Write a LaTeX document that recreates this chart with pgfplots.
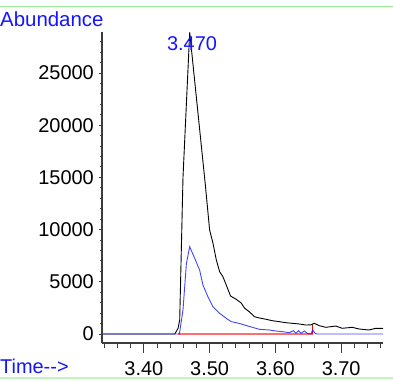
\documentclass[border=0pt]{standalone}
\usepackage{fontspec}
\setmainfont{Liberation Sans}
\usepackage{pgfplots}
\pgfplotsset{compat=1.18}
\definecolor{pkblue}{RGB}{20,20,255}
\definecolor{pkred}{RGB}{255,110,110}
\definecolor{pkgreen}{RGB}{150,235,150}
\definecolor{axgray}{RGB}{60,60,60}
\begin{document}
\begin{tikzpicture}
\useasboundingbox (0,0) rectangle (393bp,381bp);
\draw[pkgreen, line width=1bp] (0,374bp) -- (393bp,374bp);
\draw[pkgreen!60, line width=2bp] (0,2.5bp) -- (393bp,2.5bp);
\begin{axis}[
  at={(102bp,38bp)}, anchor=south west,
  scale only axis, width=281bp, height=311bp,
  xmin=3.33636, xmax=3.7636, ymin=-862, ymax=28930,
  axis x line=bottom, axis y line=none,
  axis line style={-, draw=axgray, line width=1.2bp},
  tick align=outside,
  major tick length=10bp, minor tick length=5bp,
  tick style={axgray, line width=1bp},
  xtick={3.4,3.5,3.6,3.7},
  xticklabels={3.40,3.50,3.60,3.70},
  minor xtick={3.34,3.36,3.38,3.42,3.44,3.46,3.48,3.52,3.54,3.56,3.58,3.62,3.64,3.66,3.68,3.72,3.74,3.76},
  ytick=\empty,
  xticklabel style={font=\fontsize{20}{22}\selectfont, anchor=north, inner sep=0pt, yshift=-8bp},
]
\addplot[pkred, line width=2bp] coordinates {(3.452,0) (3.6572,0)};
\addplot[red, line width=1bp] coordinates {(3.6565,0) (3.6565,1000)};
\addplot[black, line width=0.9bp] coordinates {
(3.3364,0) (3.4470,0) (3.4520,550) (3.4545,1340) (3.4595,15000) (3.4697,28900)
(3.4935,14270) (3.5000,9960) (3.5050,8720) (3.5102,7090) (3.5152,5970) (3.5202,5490)
(3.5253,4690) (3.5318,3640) (3.5405,3320) (3.5480,2970) (3.5530,2490) (3.5606,2110)
(3.5682,1660) (3.5758,1530) (3.5859,1410) (3.5955,1270) (3.6061,1180) (3.6162,1080)
(3.6258,1025) (3.6364,958) (3.6465,860) (3.6540,880) (3.6591,1025) (3.6667,795)
(3.6768,640) (3.6920,766) (3.7015,546) (3.7167,640) (3.7273,480) (3.7424,383)
(3.7526,546) (3.7636,546)};
\addplot[pkblue, line width=0.9bp, opacity=0.8] coordinates {
(3.3364,0) (3.4540,0) (3.4595,2300) (3.4647,6770) (3.4697,8360) (3.4773,7250)
(3.4848,6130) (3.4898,4690) (3.4974,3570) (3.5050,2615) (3.5152,1983) (3.5253,1504)
(3.5329,1180) (3.5405,1083) (3.5480,958) (3.5606,720) (3.5758,450) (3.5909,383)
(3.6010,287) (3.6111,220) (3.6212,125) (3.6273,316) (3.6313,67) (3.6353,316)
(3.6389,67) (3.6439,290) (3.6489,50) (3.6540,0) (3.6565,383) (3.6606,50)
(3.6636,0) (3.7636,0)};
\end{axis}
\begin{axis}[
  at={(102bp,38bp)}, anchor=south west,
  scale only axis, width=281bp, height=311bp,
  xmin=3.33636, xmax=3.7636, ymin=-862, ymax=28930,
  axis y line=left, axis x line=none,
  axis line style={-, draw=axgray, line width=1.2bp},
  tick align=outside,
  major tick length=3.5bp, minor tick length=2bp,
  tick style={axgray, line width=1bp},
  xtick=\empty,
  ytick={0,5000,10000,15000,20000,25000},
  minor ytick={1000,2000,3000,4000,6000,7000,8000,9000,11000,12000,13000,14000,16000,17000,18000,19000,21000,22000,23000,24000,26000,27000,28000},
  scaled y ticks=false,
  yticklabel={\pgfmathprintnumber[fixed,precision=0,1000 sep={},assume math mode=true]{\tick}},
  yticklabel style={font=\fontsize{20}{22}\selectfont, anchor=east, inner sep=0pt, xshift=-4.5bp},
]
\end{axis}
\node[anchor=base west, inner sep=0pt, text=pkblue, font=\fontsize{20.5}{22}\selectfont] at (0bp,354bp) {Abundance};
\node[anchor=base west, inner sep=0pt, text=pkblue, font=\fontsize{20}{22}\selectfont] at (0bp,8bp) {Time-{}->};
\node[anchor=base, inner sep=0pt, text=pkblue, font=\fontsize{20}{22}\selectfont] at (192bp,330.3bp) {3.470};
\end{tikzpicture}
\end{document}
